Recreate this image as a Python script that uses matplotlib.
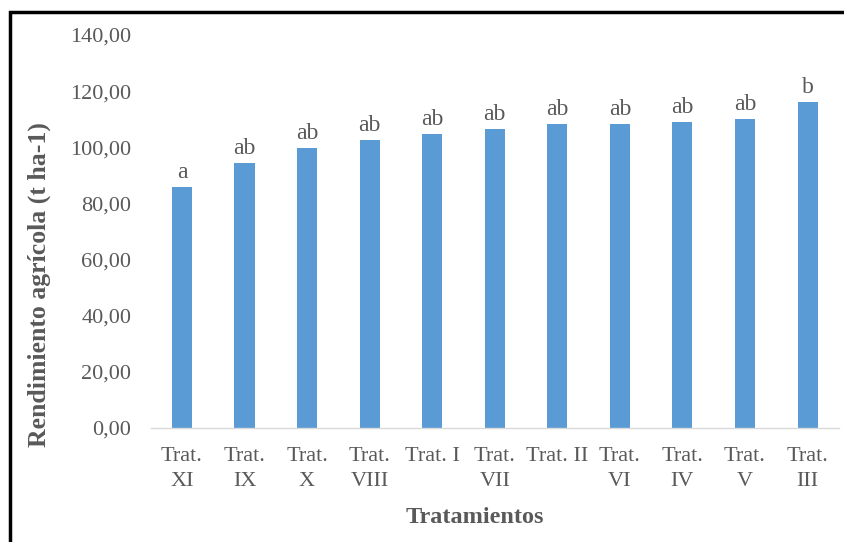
import matplotlib
matplotlib.use('Agg')
import matplotlib.pyplot as plt
from matplotlib.patches import Rectangle

treatments = ['Trat.\nXI', 'Trat.\nIX', 'Trat.\nX', 'Trat.\nVIII', 'Trat. I', 'Trat.\nVII',
              'Trat. II', 'Trat.\nVI', 'Trat.\nIV', 'Trat.\nV', 'Trat.\nIII']
yield_t = [85.9, 94.4, 99.8, 102.6, 104.7, 106.5, 108.3, 108.3, 109.0, 110.0, 116.1]
letters = ['a', 'ab', 'ab', 'ab', 'ab', 'ab', 'ab', 'ab', 'ab', 'ab', 'b']
yticks = [0, 20, 40, 60, 80, 100, 120, 140]

plt.rcParams.update({
    'font.family': 'serif',
    'font.serif': ['Liberation Serif', 'DejaVu Serif'],
})
TXT = '#595959'

fig = plt.figure(figsize=(8.45, 5.42), dpi=100)
ax = fig.add_axes([0.1783, 0.2103, 0.8144, 0.7251])

x = range(len(treatments))
bars = ax.bar(x, yield_t, width=0.32, color='#5B9BD5')
for b, lab in zip(bars, letters):
    ax.annotate(lab, (b.get_x() + b.get_width() / 2, b.get_height()),
                xytext=(0, 3), textcoords='offset points',
                ha='center', va='bottom', fontsize=17, color=TXT)

ax.set_xlim(-0.5, len(treatments) - 0.5)
ax.set_ylim(0, 140)
ax.set_yticks(yticks)
ax.set_yticklabels([f'{v:.2f}'.replace('.', ',') for v in yticks], fontsize=16, color=TXT)
ax.set_xticks(list(x))
ax.set_xticklabels(treatments, fontsize=16, color=TXT, linespacing=1.4)
ax.tick_params(axis='both', length=0)
ax.tick_params(axis='y', pad=14)
ax.tick_params(axis='x', pad=14)
for s in ['top', 'right', 'left']:
    ax.spines[s].set_visible(False)
ax.spines['bottom'].set_color('#D9D9D9')
ax.spines['bottom'].set_linewidth(1.0)

ax.set_ylabel('Rendimiento agrícola (t ha-1)', fontsize=18.5, fontweight='bold', color=TXT,
              ha='center', va='center')
ax.yaxis.set_label_coords(-0.162, 0.366)
ax.set_xlabel('Tratamientos', fontsize=17.5, fontweight='bold', color=TXT,
              ha='center', va='center')
ax.xaxis.set_label_coords(0.471, -0.2265)

# outer frame
fig.patches.append(Rectangle((10 / 845, -0.05), 1.0, 1 - 12 / 542 + 0.05,
                             transform=fig.transFigure, fill=False,
                             edgecolor='black', linewidth=2.5))

plt.savefig('out.png', dpi=100)
